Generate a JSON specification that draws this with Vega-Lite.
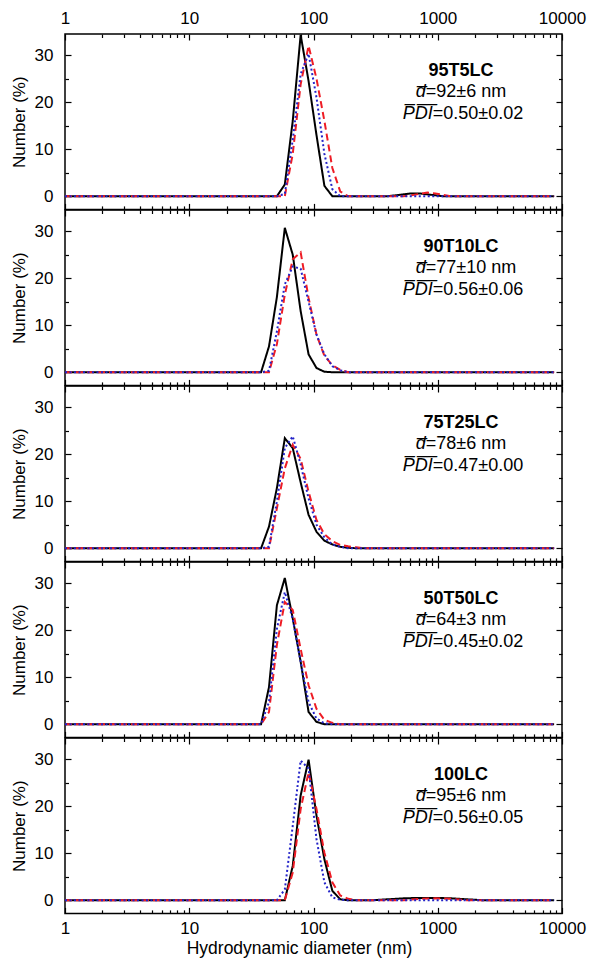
{
"$schema": "https://vega.github.io/schema/vega-lite/v6.json",
"padding": {"left": 9, "top": 5, "right": 5, "bottom": 2},
"spacing": 0,
"bounds": "flush",
"config": {
  "view": {"stroke": "#000", "strokeWidth": 1.5},
  "font": "Liberation Sans",
  "text": {"color": "#000"},
  "axis": {"labelFontSize": 17, "titleFontSize": 17, "labelColor": "#000", "titleColor": "#000", "titleFontWeight": "normal", "tickColor": "#000", "tickWidth": 1.2, "domain": false, "grid": false, "labelFlush": false, "labelOverlap": false, "labelBound": false}
},
"datasets": {
"curves": [
{"p":1,"s":"A","d":1,"v":0},{"p":1,"s":"A","d":50.75,"v":0},{"p":1,"s":"A","d":58.77,"v":2.5},{"p":1,"s":"A","d":68.06,"v":16},{"p":1,"s":"A","d":78.82,"v":34.3},{"p":1,"s":"A","d":91.28,"v":24.5},{"p":1,"s":"A","d":105.7,"v":13},{"p":1,"s":"A","d":122.4,"v":2.2},{"p":1,"s":"A","d":141.8,"v":0},{"p":1,"s":"A","d":396.2,"v":0},{"p":1,"s":"A","d":458.8,"v":0.2},{"p":1,"s":"A","d":531.4,"v":0.4},{"p":1,"s":"A","d":615.4,"v":0.6},{"p":1,"s":"A","d":712.7,"v":0.6},{"p":1,"s":"A","d":825.4,"v":0.4},{"p":1,"s":"A","d":955.9,"v":0.2},{"p":1,"s":"A","d":1107,"v":0},{"p":1,"s":"A","d":8642,"v":0},
{"p":1,"s":"B","d":1,"v":0},{"p":1,"s":"B","d":58.77,"v":0},{"p":1,"s":"B","d":68.06,"v":9},{"p":1,"s":"B","d":78.82,"v":23.8},{"p":1,"s":"B","d":91.28,"v":32},{"p":1,"s":"B","d":105.7,"v":25},{"p":1,"s":"B","d":122.4,"v":16},{"p":1,"s":"B","d":141.8,"v":6},{"p":1,"s":"B","d":164.2,"v":1},{"p":1,"s":"B","d":190.1,"v":0},{"p":1,"s":"B","d":531.4,"v":0},{"p":1,"s":"B","d":615.4,"v":0.2},{"p":1,"s":"B","d":712.7,"v":0.5},{"p":1,"s":"B","d":825.4,"v":0.8},{"p":1,"s":"B","d":955.9,"v":0.6},{"p":1,"s":"B","d":1107,"v":0.3},{"p":1,"s":"B","d":1282,"v":0},{"p":1,"s":"B","d":8642,"v":0},
{"p":1,"s":"C","d":1,"v":0},{"p":1,"s":"C","d":50.75,"v":0},{"p":1,"s":"C","d":58.77,"v":0.5},{"p":1,"s":"C","d":68.06,"v":12},{"p":1,"s":"C","d":78.82,"v":26},{"p":1,"s":"C","d":91.28,"v":30.3},{"p":1,"s":"C","d":105.7,"v":21},{"p":1,"s":"C","d":122.4,"v":9},{"p":1,"s":"C","d":141.8,"v":1.5},{"p":1,"s":"C","d":164.2,"v":0},{"p":1,"s":"C","d":8642,"v":0},
{"p":2,"s":"A","d":1,"v":0},{"p":2,"s":"A","d":37.85,"v":0},{"p":2,"s":"A","d":43.84,"v":5.5},{"p":2,"s":"A","d":50.75,"v":16},{"p":2,"s":"A","d":58.77,"v":30.7},{"p":2,"s":"A","d":68.06,"v":25},{"p":2,"s":"A","d":78.82,"v":13},{"p":2,"s":"A","d":91.28,"v":3.8},{"p":2,"s":"A","d":105.7,"v":0.9},{"p":2,"s":"A","d":122.4,"v":0.1},{"p":2,"s":"A","d":141.8,"v":0},{"p":2,"s":"A","d":8642,"v":0},
{"p":2,"s":"B","d":1,"v":0},{"p":2,"s":"B","d":43.84,"v":0},{"p":2,"s":"B","d":50.75,"v":6},{"p":2,"s":"B","d":58.77,"v":16.5},{"p":2,"s":"B","d":68.06,"v":24},{"p":2,"s":"B","d":78.82,"v":25.5},{"p":2,"s":"B","d":91.28,"v":15.8},{"p":2,"s":"B","d":105.7,"v":8},{"p":2,"s":"B","d":122.4,"v":3.5},{"p":2,"s":"B","d":141.8,"v":1.5},{"p":2,"s":"B","d":164.2,"v":0.5},{"p":2,"s":"B","d":190.1,"v":0},{"p":2,"s":"B","d":8642,"v":0},
{"p":2,"s":"C","d":1,"v":0},{"p":2,"s":"C","d":37.85,"v":0},{"p":2,"s":"C","d":43.84,"v":0.3},{"p":2,"s":"C","d":50.75,"v":8.7},{"p":2,"s":"C","d":58.77,"v":18.7},{"p":2,"s":"C","d":68.06,"v":22.5},{"p":2,"s":"C","d":78.82,"v":22},{"p":2,"s":"C","d":91.28,"v":15},{"p":2,"s":"C","d":105.7,"v":8},{"p":2,"s":"C","d":122.4,"v":3.8},{"p":2,"s":"C","d":141.8,"v":1.3},{"p":2,"s":"C","d":164.2,"v":0.4},{"p":2,"s":"C","d":190.1,"v":0},{"p":2,"s":"C","d":8642,"v":0},
{"p":3,"s":"A","d":1,"v":0},{"p":3,"s":"A","d":37.85,"v":0},{"p":3,"s":"A","d":43.84,"v":4.6},{"p":3,"s":"A","d":50.75,"v":12.8},{"p":3,"s":"A","d":58.77,"v":23.4},{"p":3,"s":"A","d":68.06,"v":21.3},{"p":3,"s":"A","d":78.82,"v":14},{"p":3,"s":"A","d":91.28,"v":7.1},{"p":3,"s":"A","d":105.7,"v":3.5},{"p":3,"s":"A","d":122.4,"v":1.6},{"p":3,"s":"A","d":141.8,"v":0.8},{"p":3,"s":"A","d":164.2,"v":0.3},{"p":3,"s":"A","d":190.1,"v":0.1},{"p":3,"s":"A","d":220.3,"v":0},{"p":3,"s":"A","d":8642,"v":0},
{"p":3,"s":"B","d":1,"v":0},{"p":3,"s":"B","d":43.84,"v":0},{"p":3,"s":"B","d":50.75,"v":8.5},{"p":3,"s":"B","d":58.77,"v":17},{"p":3,"s":"B","d":68.06,"v":22},{"p":3,"s":"B","d":78.82,"v":19},{"p":3,"s":"B","d":91.28,"v":12},{"p":3,"s":"B","d":105.7,"v":6},{"p":3,"s":"B","d":122.4,"v":3},{"p":3,"s":"B","d":141.8,"v":1.5},{"p":3,"s":"B","d":164.2,"v":0.7},{"p":3,"s":"B","d":190.1,"v":0.4},{"p":3,"s":"B","d":220.3,"v":0.2},{"p":3,"s":"B","d":255.1,"v":0},{"p":3,"s":"B","d":8642,"v":0},
{"p":3,"s":"C","d":1,"v":0},{"p":3,"s":"C","d":37.85,"v":0},{"p":3,"s":"C","d":43.84,"v":0.3},{"p":3,"s":"C","d":50.75,"v":10},{"p":3,"s":"C","d":58.77,"v":21.3},{"p":3,"s":"C","d":68.06,"v":23.8},{"p":3,"s":"C","d":78.82,"v":17.8},{"p":3,"s":"C","d":91.28,"v":10.6},{"p":3,"s":"C","d":105.7,"v":5},{"p":3,"s":"C","d":122.4,"v":2.3},{"p":3,"s":"C","d":141.8,"v":0.8},{"p":3,"s":"C","d":164.2,"v":0.3},{"p":3,"s":"C","d":190.1,"v":0},{"p":3,"s":"C","d":8642,"v":0},
{"p":4,"s":"A","d":1,"v":0},{"p":4,"s":"A","d":37.85,"v":0},{"p":4,"s":"A","d":43.84,"v":7.9},{"p":4,"s":"A","d":50.75,"v":25.3},{"p":4,"s":"A","d":58.77,"v":31.1},{"p":4,"s":"A","d":68.06,"v":22.5},{"p":4,"s":"A","d":78.82,"v":13.3},{"p":4,"s":"A","d":91.28,"v":2.6},{"p":4,"s":"A","d":105.7,"v":0.5},{"p":4,"s":"A","d":122.4,"v":0},{"p":4,"s":"A","d":8642,"v":0},
{"p":4,"s":"B","d":1,"v":0},{"p":4,"s":"B","d":37.85,"v":0},{"p":4,"s":"B","d":43.84,"v":2.6},{"p":4,"s":"B","d":50.75,"v":16.9},{"p":4,"s":"B","d":58.77,"v":26},{"p":4,"s":"B","d":68.06,"v":24.3},{"p":4,"s":"B","d":78.82,"v":16},{"p":4,"s":"B","d":91.28,"v":8.3},{"p":4,"s":"B","d":105.7,"v":3.3},{"p":4,"s":"B","d":122.4,"v":0.9},{"p":4,"s":"B","d":141.8,"v":0.3},{"p":4,"s":"B","d":164.2,"v":0},{"p":4,"s":"B","d":8642,"v":0},
{"p":4,"s":"C","d":1,"v":0},{"p":4,"s":"C","d":37.85,"v":0},{"p":4,"s":"C","d":43.84,"v":4.7},{"p":4,"s":"C","d":50.75,"v":20.3},{"p":4,"s":"C","d":58.77,"v":28.1},{"p":4,"s":"C","d":68.06,"v":22.4},{"p":4,"s":"C","d":78.82,"v":13.3},{"p":4,"s":"C","d":91.28,"v":4.7},{"p":4,"s":"C","d":105.7,"v":1.2},{"p":4,"s":"C","d":122.4,"v":0.2},{"p":4,"s":"C","d":141.8,"v":0},{"p":4,"s":"C","d":8642,"v":0},
{"p":5,"s":"A","d":1,"v":0},{"p":5,"s":"A","d":58.77,"v":0},{"p":5,"s":"A","d":68.06,"v":7.3},{"p":5,"s":"A","d":78.82,"v":22.3},{"p":5,"s":"A","d":91.28,"v":29.9},{"p":5,"s":"A","d":105.7,"v":18},{"p":5,"s":"A","d":122.4,"v":8.7},{"p":5,"s":"A","d":141.8,"v":2},{"p":5,"s":"A","d":164.2,"v":0.2},{"p":5,"s":"A","d":190.1,"v":0},{"p":5,"s":"A","d":295.4,"v":0},{"p":5,"s":"A","d":396.2,"v":0.2},{"p":5,"s":"A","d":531.4,"v":0.4},{"p":5,"s":"A","d":712.7,"v":0.5},{"p":5,"s":"A","d":955.9,"v":0.5},{"p":5,"s":"A","d":1282,"v":0.4},{"p":5,"s":"A","d":1719,"v":0.2},{"p":5,"s":"A","d":2306,"v":0},{"p":5,"s":"A","d":8642,"v":0},
{"p":5,"s":"B","d":1,"v":0},{"p":5,"s":"B","d":58.77,"v":0},{"p":5,"s":"B","d":68.06,"v":5.9},{"p":5,"s":"B","d":78.82,"v":19.4},{"p":5,"s":"B","d":91.28,"v":27.2},{"p":5,"s":"B","d":105.7,"v":19.4},{"p":5,"s":"B","d":122.4,"v":10.1},{"p":5,"s":"B","d":141.8,"v":3.8},{"p":5,"s":"B","d":164.2,"v":1},{"p":5,"s":"B","d":190.1,"v":0.3},{"p":5,"s":"B","d":220.3,"v":0},{"p":5,"s":"B","d":531.4,"v":0},{"p":5,"s":"B","d":712.7,"v":0.3},{"p":5,"s":"B","d":955.9,"v":0.4},{"p":5,"s":"B","d":1282,"v":0.3},{"p":5,"s":"B","d":1719,"v":0},{"p":5,"s":"B","d":8642,"v":0},
{"p":5,"s":"C","d":1,"v":0},{"p":5,"s":"C","d":50.75,"v":0},{"p":5,"s":"C","d":58.77,"v":2.3},{"p":5,"s":"C","d":68.06,"v":15.8},{"p":5,"s":"C","d":78.82,"v":29.7},{"p":5,"s":"C","d":91.28,"v":28},{"p":5,"s":"C","d":105.7,"v":13},{"p":5,"s":"C","d":122.4,"v":3.8},{"p":5,"s":"C","d":141.8,"v":0.6},{"p":5,"s":"C","d":164.2,"v":0.1},{"p":5,"s":"C","d":190.1,"v":0},{"p":5,"s":"C","d":8642,"v":0}
],
"labels": [
{"p":1,"name":"95T5LC","dv":"=92±6 nm","pv":"=0.50±0.02"},
{"p":2,"name":"90T10LC","dv":"=77±10 nm","pv":"=0.56±0.06"},
{"p":3,"name":"75T25LC","dv":"=78±6 nm","pv":"=0.47±0.00"},
{"p":4,"name":"50T50LC","dv":"=64±3 nm","pv":"=0.45±0.02"},
{"p":5,"name":"100LC","dv":"=95±6 nm","pv":"=0.56±0.05"}
]
},
"vconcat": [
{"width": 497, "height": 175.4, "resolve": {"axis": {"x": "independent", "y": "independent"}},
 "layer": [
  {"data": {"name": "curves"}, "transform": [{"filter": "datum.p == 1"}], "mark": {"type": "line", "strokeWidth": 2, "clip": true},
   "encoding": {
    "x": {"field": "d", "type": "quantitative", "scale": {"type": "log", "domain": [1, 10000]}, "axis": {"orient": "bottom", "values": [1,2,3,4,5,6,7,8,9,10,20,30,40,50,60,70,80,90,100,200,300,400,500,600,700,800,900,1000,2000,3000,4000,5000,6000,7000,8000,9000,10000], "tickSize": {"condition": {"test": "abs(log(datum.value)/LN10 - round(log(datum.value)/LN10)) < 0.001", "value": -6}, "value": -3.5}, "labels": false, "title": null}},
    "y": {"field": "v", "type": "quantitative", "scale": {"domain": [-2.8, 34.5], "nice": false, "zero": false}, "axis": {"orient": "left", "values": [0,5,10,15,20,25,30], "tickSize": {"condition": {"test": "datum.value % 10 === 0", "value": -6}, "value": -3.5}, "labelExpr": "datum.value % 10 === 0 ? datum.label : ''", "labelPadding": 18, "title": "Number (%)", "titlePadding": 6}},
    "color": {"field": "s", "type": "nominal", "scale": {"domain": ["A","B","C"], "range": ["#000000","#ee1c25","#2323c8"]}, "legend": null},
    "strokeDash": {"field": "s", "type": "nominal", "scale": {"domain": ["A","B","C"], "range": [[1,0],[7,4],[2,2.5]]}, "legend": null}
   }},
  {"data": {"name": "labels"}, "transform": [{"filter": "datum.p == 1"}], "mark": {"type": "text", "fontSize": 18, "fontWeight": "bold", "align": "center", "baseline": "alphabetic"},
   "encoding": {
    "x": {"datum": 1540, "type": "quantitative", "axis": {"orient": "top", "values": [1,2,3,4,5,6,7,8,9,10,20,30,40,50,60,70,80,90,100,200,300,400,500,600,700,800,900,1000,2000,3000,4000,5000,6000,7000,8000,9000,10000], "tickSize": {"condition": {"test": "abs(log(datum.value)/LN10 - round(log(datum.value)/LN10)) < 0.001", "value": -6}, "value": -3.5}, "format": "d", "labelExpr": "abs(log(datum.value)/LN10 - round(log(datum.value)/LN10)) < 0.001 ? datum.label : ''", "labelPadding": 13, "title": null}},
    "y": {"datum": 25.6, "type": "quantitative", "axis": {"orient": "right", "values": [0,5,10,15,20,25,30], "tickSize": {"condition": {"test": "datum.value % 10 === 0", "value": -6}, "value": -3.5}, "labels": false, "title": null}},
    "text": {"field": "name"}}},
  {"data": {"name": "labels"}, "transform": [{"filter": "datum.p == 1"}], "mark": {"type": "text", "text": "d\u0305", "fontStyle": "italic", "fontSize": 18, "align": "right", "baseline": "alphabetic"},
   "encoding": {"x": {"datum": 801, "type": "quantitative", "axis": null}, "y": {"datum": 21, "type": "quantitative", "axis": null}}},
  {"data": {"name": "labels"}, "transform": [{"filter": "datum.p == 1"}], "mark": {"type": "text", "fontSize": 18, "align": "left", "baseline": "alphabetic"},
   "encoding": {"x": {"datum": 801, "type": "quantitative", "axis": null}, "y": {"datum": 21, "type": "quantitative", "axis": null}, "text": {"field": "dv"}}},
  {"data": {"name": "labels"}, "transform": [{"filter": "datum.p == 1"}], "mark": {"type": "text", "text": "P\u0305D\u0305I\u0305", "fontStyle": "italic", "fontSize": 18, "align": "right", "baseline": "alphabetic"},
   "encoding": {"x": {"datum": 912, "type": "quantitative", "axis": null}, "y": {"datum": 16.4, "type": "quantitative", "axis": null}}},
  {"data": {"name": "labels"}, "transform": [{"filter": "datum.p == 1"}], "mark": {"type": "text", "fontSize": 18, "align": "left", "baseline": "alphabetic"},
   "encoding": {"x": {"datum": 912, "type": "quantitative", "axis": null}, "y": {"datum": 16.4, "type": "quantitative", "axis": null}, "text": {"field": "pv"}}}
 ]},
{"width": 497, "height": 175.4, "resolve": {"axis": {"x": "independent", "y": "independent"}},
 "layer": [
  {"data": {"name": "curves"}, "transform": [{"filter": "datum.p == 2"}], "mark": {"type": "line", "strokeWidth": 2, "clip": true},
   "encoding": {
    "x": {"field": "d", "type": "quantitative", "scale": {"type": "log", "domain": [1, 10000]}, "axis": {"orient": "bottom", "values": [1,2,3,4,5,6,7,8,9,10,20,30,40,50,60,70,80,90,100,200,300,400,500,600,700,800,900,1000,2000,3000,4000,5000,6000,7000,8000,9000,10000], "tickSize": {"condition": {"test": "abs(log(datum.value)/LN10 - round(log(datum.value)/LN10)) < 0.001", "value": -6}, "value": -3.5}, "labels": false, "title": null}},
    "y": {"field": "v", "type": "quantitative", "scale": {"domain": [-2.8, 34.5], "nice": false, "zero": false}, "axis": {"orient": "left", "values": [0,5,10,15,20,25,30], "tickSize": {"condition": {"test": "datum.value % 10 === 0", "value": -6}, "value": -3.5}, "labelExpr": "datum.value % 10 === 0 ? datum.label : ''", "labelPadding": 18, "title": "Number (%)", "titlePadding": 6}},
    "color": {"field": "s", "type": "nominal", "scale": {"domain": ["A","B","C"], "range": ["#000000","#ee1c25","#2323c8"]}, "legend": null},
    "strokeDash": {"field": "s", "type": "nominal", "scale": {"domain": ["A","B","C"], "range": [[1,0],[7,4],[2,2.5]]}, "legend": null}
   }},
  {"data": {"name": "labels"}, "transform": [{"filter": "datum.p == 2"}], "mark": {"type": "text", "fontSize": 18, "fontWeight": "bold", "align": "center", "baseline": "alphabetic"},
   "encoding": {
    "x": {"datum": 1540, "type": "quantitative", "axis": {"orient": "top", "values": [1,2,3,4,5,6,7,8,9,10,20,30,40,50,60,70,80,90,100,200,300,400,500,600,700,800,900,1000,2000,3000,4000,5000,6000,7000,8000,9000,10000], "tickSize": {"condition": {"test": "abs(log(datum.value)/LN10 - round(log(datum.value)/LN10)) < 0.001", "value": -6}, "value": -3.5}, "labels": false, "title": null}},
    "y": {"datum": 25.6, "type": "quantitative", "axis": {"orient": "right", "values": [0,5,10,15,20,25,30], "tickSize": {"condition": {"test": "datum.value % 10 === 0", "value": -6}, "value": -3.5}, "labels": false, "title": null}},
    "text": {"field": "name"}}},
  {"data": {"name": "labels"}, "transform": [{"filter": "datum.p == 2"}], "mark": {"type": "text", "text": "d\u0305", "fontStyle": "italic", "fontSize": 18, "align": "right", "baseline": "alphabetic"},
   "encoding": {"x": {"datum": 801, "type": "quantitative", "axis": null}, "y": {"datum": 21, "type": "quantitative", "axis": null}}},
  {"data": {"name": "labels"}, "transform": [{"filter": "datum.p == 2"}], "mark": {"type": "text", "fontSize": 18, "align": "left", "baseline": "alphabetic"},
   "encoding": {"x": {"datum": 801, "type": "quantitative", "axis": null}, "y": {"datum": 21, "type": "quantitative", "axis": null}, "text": {"field": "dv"}}},
  {"data": {"name": "labels"}, "transform": [{"filter": "datum.p == 2"}], "mark": {"type": "text", "text": "P\u0305D\u0305I\u0305", "fontStyle": "italic", "fontSize": 18, "align": "right", "baseline": "alphabetic"},
   "encoding": {"x": {"datum": 912, "type": "quantitative", "axis": null}, "y": {"datum": 16.4, "type": "quantitative", "axis": null}}},
  {"data": {"name": "labels"}, "transform": [{"filter": "datum.p == 2"}], "mark": {"type": "text", "fontSize": 18, "align": "left", "baseline": "alphabetic"},
   "encoding": {"x": {"datum": 912, "type": "quantitative", "axis": null}, "y": {"datum": 16.4, "type": "quantitative", "axis": null}, "text": {"field": "pv"}}}
 ]},
{"width": 497, "height": 175.4, "resolve": {"axis": {"x": "independent", "y": "independent"}},
 "layer": [
  {"data": {"name": "curves"}, "transform": [{"filter": "datum.p == 3"}], "mark": {"type": "line", "strokeWidth": 2, "clip": true},
   "encoding": {
    "x": {"field": "d", "type": "quantitative", "scale": {"type": "log", "domain": [1, 10000]}, "axis": {"orient": "bottom", "values": [1,2,3,4,5,6,7,8,9,10,20,30,40,50,60,70,80,90,100,200,300,400,500,600,700,800,900,1000,2000,3000,4000,5000,6000,7000,8000,9000,10000], "tickSize": {"condition": {"test": "abs(log(datum.value)/LN10 - round(log(datum.value)/LN10)) < 0.001", "value": -6}, "value": -3.5}, "labels": false, "title": null}},
    "y": {"field": "v", "type": "quantitative", "scale": {"domain": [-2.8, 34.5], "nice": false, "zero": false}, "axis": {"orient": "left", "values": [0,5,10,15,20,25,30], "tickSize": {"condition": {"test": "datum.value % 10 === 0", "value": -6}, "value": -3.5}, "labelExpr": "datum.value % 10 === 0 ? datum.label : ''", "labelPadding": 18, "title": "Number (%)", "titlePadding": 6}},
    "color": {"field": "s", "type": "nominal", "scale": {"domain": ["A","B","C"], "range": ["#000000","#ee1c25","#2323c8"]}, "legend": null},
    "strokeDash": {"field": "s", "type": "nominal", "scale": {"domain": ["A","B","C"], "range": [[1,0],[7,4],[2,2.5]]}, "legend": null}
   }},
  {"data": {"name": "labels"}, "transform": [{"filter": "datum.p == 3"}], "mark": {"type": "text", "fontSize": 18, "fontWeight": "bold", "align": "center", "baseline": "alphabetic"},
   "encoding": {
    "x": {"datum": 1540, "type": "quantitative", "axis": {"orient": "top", "values": [1,2,3,4,5,6,7,8,9,10,20,30,40,50,60,70,80,90,100,200,300,400,500,600,700,800,900,1000,2000,3000,4000,5000,6000,7000,8000,9000,10000], "tickSize": {"condition": {"test": "abs(log(datum.value)/LN10 - round(log(datum.value)/LN10)) < 0.001", "value": -6}, "value": -3.5}, "labels": false, "title": null}},
    "y": {"datum": 25.6, "type": "quantitative", "axis": {"orient": "right", "values": [0,5,10,15,20,25,30], "tickSize": {"condition": {"test": "datum.value % 10 === 0", "value": -6}, "value": -3.5}, "labels": false, "title": null}},
    "text": {"field": "name"}}},
  {"data": {"name": "labels"}, "transform": [{"filter": "datum.p == 3"}], "mark": {"type": "text", "text": "d\u0305", "fontStyle": "italic", "fontSize": 18, "align": "right", "baseline": "alphabetic"},
   "encoding": {"x": {"datum": 801, "type": "quantitative", "axis": null}, "y": {"datum": 21, "type": "quantitative", "axis": null}}},
  {"data": {"name": "labels"}, "transform": [{"filter": "datum.p == 3"}], "mark": {"type": "text", "fontSize": 18, "align": "left", "baseline": "alphabetic"},
   "encoding": {"x": {"datum": 801, "type": "quantitative", "axis": null}, "y": {"datum": 21, "type": "quantitative", "axis": null}, "text": {"field": "dv"}}},
  {"data": {"name": "labels"}, "transform": [{"filter": "datum.p == 3"}], "mark": {"type": "text", "text": "P\u0305D\u0305I\u0305", "fontStyle": "italic", "fontSize": 18, "align": "right", "baseline": "alphabetic"},
   "encoding": {"x": {"datum": 912, "type": "quantitative", "axis": null}, "y": {"datum": 16.4, "type": "quantitative", "axis": null}}},
  {"data": {"name": "labels"}, "transform": [{"filter": "datum.p == 3"}], "mark": {"type": "text", "fontSize": 18, "align": "left", "baseline": "alphabetic"},
   "encoding": {"x": {"datum": 912, "type": "quantitative", "axis": null}, "y": {"datum": 16.4, "type": "quantitative", "axis": null}, "text": {"field": "pv"}}}
 ]},
{"width": 497, "height": 175.4, "resolve": {"axis": {"x": "independent", "y": "independent"}},
 "layer": [
  {"data": {"name": "curves"}, "transform": [{"filter": "datum.p == 4"}], "mark": {"type": "line", "strokeWidth": 2, "clip": true},
   "encoding": {
    "x": {"field": "d", "type": "quantitative", "scale": {"type": "log", "domain": [1, 10000]}, "axis": {"orient": "bottom", "values": [1,2,3,4,5,6,7,8,9,10,20,30,40,50,60,70,80,90,100,200,300,400,500,600,700,800,900,1000,2000,3000,4000,5000,6000,7000,8000,9000,10000], "tickSize": {"condition": {"test": "abs(log(datum.value)/LN10 - round(log(datum.value)/LN10)) < 0.001", "value": -6}, "value": -3.5}, "labels": false, "title": null}},
    "y": {"field": "v", "type": "quantitative", "scale": {"domain": [-2.8, 34.5], "nice": false, "zero": false}, "axis": {"orient": "left", "values": [0,5,10,15,20,25,30], "tickSize": {"condition": {"test": "datum.value % 10 === 0", "value": -6}, "value": -3.5}, "labelExpr": "datum.value % 10 === 0 ? datum.label : ''", "labelPadding": 18, "title": "Number (%)", "titlePadding": 6}},
    "color": {"field": "s", "type": "nominal", "scale": {"domain": ["A","B","C"], "range": ["#000000","#ee1c25","#2323c8"]}, "legend": null},
    "strokeDash": {"field": "s", "type": "nominal", "scale": {"domain": ["A","B","C"], "range": [[1,0],[7,4],[2,2.5]]}, "legend": null}
   }},
  {"data": {"name": "labels"}, "transform": [{"filter": "datum.p == 4"}], "mark": {"type": "text", "fontSize": 18, "fontWeight": "bold", "align": "center", "baseline": "alphabetic"},
   "encoding": {
    "x": {"datum": 1540, "type": "quantitative", "axis": {"orient": "top", "values": [1,2,3,4,5,6,7,8,9,10,20,30,40,50,60,70,80,90,100,200,300,400,500,600,700,800,900,1000,2000,3000,4000,5000,6000,7000,8000,9000,10000], "tickSize": {"condition": {"test": "abs(log(datum.value)/LN10 - round(log(datum.value)/LN10)) < 0.001", "value": -6}, "value": -3.5}, "labels": false, "title": null}},
    "y": {"datum": 25.6, "type": "quantitative", "axis": {"orient": "right", "values": [0,5,10,15,20,25,30], "tickSize": {"condition": {"test": "datum.value % 10 === 0", "value": -6}, "value": -3.5}, "labels": false, "title": null}},
    "text": {"field": "name"}}},
  {"data": {"name": "labels"}, "transform": [{"filter": "datum.p == 4"}], "mark": {"type": "text", "text": "d\u0305", "fontStyle": "italic", "fontSize": 18, "align": "right", "baseline": "alphabetic"},
   "encoding": {"x": {"datum": 801, "type": "quantitative", "axis": null}, "y": {"datum": 21, "type": "quantitative", "axis": null}}},
  {"data": {"name": "labels"}, "transform": [{"filter": "datum.p == 4"}], "mark": {"type": "text", "fontSize": 18, "align": "left", "baseline": "alphabetic"},
   "encoding": {"x": {"datum": 801, "type": "quantitative", "axis": null}, "y": {"datum": 21, "type": "quantitative", "axis": null}, "text": {"field": "dv"}}},
  {"data": {"name": "labels"}, "transform": [{"filter": "datum.p == 4"}], "mark": {"type": "text", "text": "P\u0305D\u0305I\u0305", "fontStyle": "italic", "fontSize": 18, "align": "right", "baseline": "alphabetic"},
   "encoding": {"x": {"datum": 912, "type": "quantitative", "axis": null}, "y": {"datum": 16.4, "type": "quantitative", "axis": null}}},
  {"data": {"name": "labels"}, "transform": [{"filter": "datum.p == 4"}], "mark": {"type": "text", "fontSize": 18, "align": "left", "baseline": "alphabetic"},
   "encoding": {"x": {"datum": 912, "type": "quantitative", "axis": null}, "y": {"datum": 16.4, "type": "quantitative", "axis": null}, "text": {"field": "pv"}}}
 ]},
{"width": 497, "height": 175.4, "resolve": {"axis": {"x": "independent", "y": "independent"}},
 "layer": [
  {"data": {"name": "curves"}, "transform": [{"filter": "datum.p == 5"}], "mark": {"type": "line", "strokeWidth": 2, "clip": true},
   "encoding": {
    "x": {"field": "d", "type": "quantitative", "scale": {"type": "log", "domain": [1, 10000]}, "axis": {"orient": "bottom", "values": [1,2,3,4,5,6,7,8,9,10,20,30,40,50,60,70,80,90,100,200,300,400,500,600,700,800,900,1000,2000,3000,4000,5000,6000,7000,8000,9000,10000], "tickSize": {"condition": {"test": "abs(log(datum.value)/LN10 - round(log(datum.value)/LN10)) < 0.001", "value": -6}, "value": -3.5}, "format": "d", "labelExpr": "abs(log(datum.value)/LN10 - round(log(datum.value)/LN10)) < 0.001 ? datum.label : ''", "labelPadding": 13, "title": "Hydrodynamic diameter (nm)", "titleFontSize": 17.5, "titleX": 234, "titlePadding": 1}},
    "y": {"field": "v", "type": "quantitative", "scale": {"domain": [-2.8, 34.5], "nice": false, "zero": false}, "axis": {"orient": "left", "values": [0,5,10,15,20,25,30], "tickSize": {"condition": {"test": "datum.value % 10 === 0", "value": -6}, "value": -3.5}, "labelExpr": "datum.value % 10 === 0 ? datum.label : ''", "labelPadding": 18, "title": "Number (%)", "titlePadding": 6}},
    "color": {"field": "s", "type": "nominal", "scale": {"domain": ["A","B","C"], "range": ["#000000","#ee1c25","#2323c8"]}, "legend": null},
    "strokeDash": {"field": "s", "type": "nominal", "scale": {"domain": ["A","B","C"], "range": [[1,0],[7,4],[2,2.5]]}, "legend": null}
   }},
  {"data": {"name": "labels"}, "transform": [{"filter": "datum.p == 5"}], "mark": {"type": "text", "fontSize": 18, "fontWeight": "bold", "align": "center", "baseline": "alphabetic"},
   "encoding": {
    "x": {"datum": 1540, "type": "quantitative", "axis": {"orient": "top", "values": [1,2,3,4,5,6,7,8,9,10,20,30,40,50,60,70,80,90,100,200,300,400,500,600,700,800,900,1000,2000,3000,4000,5000,6000,7000,8000,9000,10000], "tickSize": {"condition": {"test": "abs(log(datum.value)/LN10 - round(log(datum.value)/LN10)) < 0.001", "value": -6}, "value": -3.5}, "labels": false, "title": null}},
    "y": {"datum": 25.6, "type": "quantitative", "axis": {"orient": "right", "values": [0,5,10,15,20,25,30], "tickSize": {"condition": {"test": "datum.value % 10 === 0", "value": -6}, "value": -3.5}, "labels": false, "title": null}},
    "text": {"field": "name"}}},
  {"data": {"name": "labels"}, "transform": [{"filter": "datum.p == 5"}], "mark": {"type": "text", "text": "d\u0305", "fontStyle": "italic", "fontSize": 18, "align": "right", "baseline": "alphabetic"},
   "encoding": {"x": {"datum": 801, "type": "quantitative", "axis": null}, "y": {"datum": 21, "type": "quantitative", "axis": null}}},
  {"data": {"name": "labels"}, "transform": [{"filter": "datum.p == 5"}], "mark": {"type": "text", "fontSize": 18, "align": "left", "baseline": "alphabetic"},
   "encoding": {"x": {"datum": 801, "type": "quantitative", "axis": null}, "y": {"datum": 21, "type": "quantitative", "axis": null}, "text": {"field": "dv"}}},
  {"data": {"name": "labels"}, "transform": [{"filter": "datum.p == 5"}], "mark": {"type": "text", "text": "P\u0305D\u0305I\u0305", "fontStyle": "italic", "fontSize": 18, "align": "right", "baseline": "alphabetic"},
   "encoding": {"x": {"datum": 912, "type": "quantitative", "axis": null}, "y": {"datum": 16.4, "type": "quantitative", "axis": null}}},
  {"data": {"name": "labels"}, "transform": [{"filter": "datum.p == 5"}], "mark": {"type": "text", "fontSize": 18, "align": "left", "baseline": "alphabetic"},
   "encoding": {"x": {"datum": 912, "type": "quantitative", "axis": null}, "y": {"datum": 16.4, "type": "quantitative", "axis": null}, "text": {"field": "pv"}}}
 ]}
]
}
